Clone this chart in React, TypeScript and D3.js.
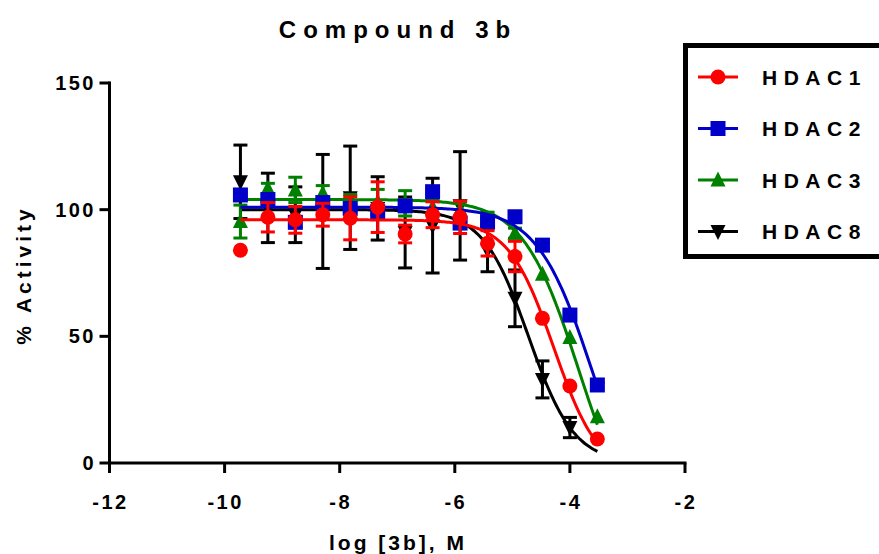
import React from "react";
import * as d3 from "d3";

const logConc = [-9.725, -9.248, -8.771, -8.294, -7.817, -7.34, -6.863, -6.386, -5.908, -5.431, -4.954, -4.477, -4.0, -3.523];

const seriesNames = ["HDAC1", "HDAC2", "HDAC3", "HDAC8"];
const seriesColors = ["#FF0000", "#0000C8", "#008000", "#000000"];
const seriesShapes = ["circle", "square", "triangle", "triangleDown"];

const hdac1Mean = [84, 97, 96, 98, 96.6, 101, 90.4, 98, 97, 86.7, 81.5, 57.1, 30.4, 9.5];
const hdac1Err = [0, 5.8, 5.3, 4.5, 8.5, 10, 3.5, 5.1, 6.4, 5, 6, 0, 0, 0];
const hdac2Mean = [105.8, 104, 95, 102.8, 100.5, 99.2, 101.5, 107.1, 94.7, 95.3, 97.2, 86, 58.4, 30.8];
const hdac2Err = [1, 1, 2, 1, 1, 1, 1, 1, 1, 1, 1, 1, 1, 1];
const hdac3Mean = [95.3, 108.4, 107.8, 106.5, 103, 103, 102.5, 101, 100, 96, 90.7, 74.5, 49.5, 18.3];
const hdac3Err = [6.5, 2, 5, 3, 3, 5, 5, 3, 3, 3, 2, 0, 0, 0];
const hdac8Mean = [111, 100.7, 98, 99.3, 104.7, 100.5, 91, 93.7, 101.5, 84, 65, 33, 14, null];
const hdac8Err = [14.5, 13.7, 11, 22.5, 20.4, 12.5, 14, 18.7, 21.4, 8.5, 11.2, 7.3, 4, null];

// fitted four-parameter logistic curves
const fitTop = [96, 101, 104, 100];
const fitBottom = [-5, -30, -30, 0];
const fitLogIC50 = [-4.28, -3.6, -3.85, -4.72];
const fitHill = [1.1, 0.9, 0.9, 1.1];

const xTicks = [-12, -10, -8, -6, -4, -2];
const yTicks = [0, 50, 100, 150];

const titleText = "Compound 3b";
const xLabel = "log [3b], M";
const yLabel = "% Activity";

const FONT = "'Liberation Sans', Arial, Helvetica, sans-serif";

function Marker({ shape, x, y, color, size }: { shape: string; x: number; y: number; color: string; size: number }) {
  const h = size / 2;
  if (shape === "circle") return <circle cx={x} cy={y} r={h} fill={color} />;
  if (shape === "square") return <rect x={x - h} y={y - h} width={size} height={size} fill={color} />;
  if (shape === "triangle")
    return <path d={`M${x},${y - h - 1}L${x + h},${y + h - 1}L${x - h},${y + h - 1}Z`} fill={color} />;
  return <path d={`M${x},${y + h + 1}L${x + h},${y - h + 1}L${x - h},${y - h + 1}Z`} fill={color} />;
}

export default function App() {
  const W = 879;
  const H = 554;
  const x = d3.scaleLinear().domain([-12, -2]).range([109.5, 685]);
  const y = d3.scaleLinear().domain([0, 150]).range([463, 83]);

  const means = [hdac1Mean, hdac2Mean, hdac3Mean, hdac8Mean];
  const errs = [hdac1Err, hdac2Err, hdac3Err, hdac8Err];

  const xMin = d3.min(logConc) as number;
  const xMax = d3.max(logConc) as number;
  const samples = d3.range(0, 201).map((i) => xMin + ((xMax - xMin) * i) / 200);

  const line = d3
    .line<[number, number]>()
    .x((d) => x(d[0]))
    .y((d) => y(d[1]));

  const drawOrder = [3, 2, 1, 0];
  const sw = 3;
  const cap = 7;

  return (
    <svg width={W} height={H} style={{ position: "absolute", left: 0, top: 0, background: "#fff" }}>
      <rect width={W} height={H} fill="#fff" />
      {/* title */}
      <text x={398} y={38} textAnchor="middle" fontFamily={FONT} fontWeight="bold" fontSize={24} letterSpacing={7}>
        {titleText}
      </text>

      {/* series */}
      {drawOrder.map((si) => {
        const color = seriesColors[si];
        const pts: [number, number][] = samples.map((lx) => [
          lx,
          fitBottom[si] + (fitTop[si] - fitBottom[si]) / (1 + Math.pow(10, (lx - fitLogIC50[si]) * fitHill[si])),
        ]);
        return (
          <g key={si}>
            <path d={line(pts) as string} fill="none" stroke={color} strokeWidth={sw} />
            {logConc.map((lx, i) => {
              const m = means[si][i];
              const e = errs[si][i];
              if (m == null || e == null || e <= 0) return null;
              const cx = x(lx);
              const y1 = y(m + e);
              const y2 = y(m - e);
              return (
                <g key={i} stroke={color} strokeWidth={sw}>
                  <line x1={cx} x2={cx} y1={y1} y2={y2} />
                  <line x1={cx - cap} x2={cx + cap} y1={y1} y2={y1} />
                  <line x1={cx - cap} x2={cx + cap} y1={y2} y2={y2} />
                </g>
              );
            })}
            {logConc.map((lx, i) => {
              const m = means[si][i];
              if (m == null) return null;
              return <Marker key={i} shape={seriesShapes[si]} x={x(lx)} y={y(m)} color={color} size={15} />;
            })}
          </g>
        );
      })}

      {/* axes */}
      <g stroke="#000" strokeWidth={3} fill="none">
        <line x1={x(-12)} x2={x(-12)} y1={y(150) - 1.5} y2={y(0)} />
        <line x1={x(-12)} x2={x(-2) + 1.5} y1={y(0)} y2={y(0)} />
        {yTicks.map((t) => (
          <line key={t} x1={x(-12) - 10} x2={x(-12)} y1={y(t)} y2={y(t)} />
        ))}
        {xTicks.map((t) => (
          <line key={t} x1={x(t)} x2={x(t)} y1={y(0)} y2={y(0) + 10} />
        ))}
      </g>
      {yTicks.map((t) => (
        <text
          key={t}
          x={96}
          y={y(t) + 7}
          textAnchor="end"
          fontFamily={FONT}
          fontWeight="bold"
          fontSize={20}
          letterSpacing={2.5}
        >
          {String(t)}
        </text>
      ))}
      {xTicks.map((t) => (
        <text
          key={t}
          x={x(t) + 1}
          y={509}
          textAnchor="middle"
          fontFamily={FONT}
          fontWeight="bold"
          fontSize={20}
          letterSpacing={2.5}
        >
          {String(t)}
        </text>
      ))}
      <text x={398} y={550} textAnchor="middle" fontFamily={FONT} fontWeight="bold" fontSize={21} letterSpacing={3}>
        {xLabel}
      </text>
      <text
        transform={`translate(31,275) rotate(-90)`}
        textAnchor="middle"
        fontFamily={FONT}
        fontWeight="bold"
        fontSize={21}
        letterSpacing={4}
      >
        {yLabel}
      </text>

      {/* legend */}
      <rect x={685.5} y={45.5} width={230} height={211} fill="#fff" stroke="#000" strokeWidth={5} />
      {seriesNames.map((name, i) => {
        const ly = 77 + i * 51.5;
        return (
          <g key={name}>
            <line x1={698} x2={738} y1={ly} y2={ly} stroke={seriesColors[i]} strokeWidth={3} />
            <Marker shape={seriesShapes[i]} x={718} y={ly} color={seriesColors[i]} size={15} />
            <text x={762} y={ly + 7.5} fontFamily={FONT} fontWeight="bold" fontSize={21} letterSpacing={6.5}>
              {name}
            </text>
          </g>
        );
      })}
    </svg>
  );
}
